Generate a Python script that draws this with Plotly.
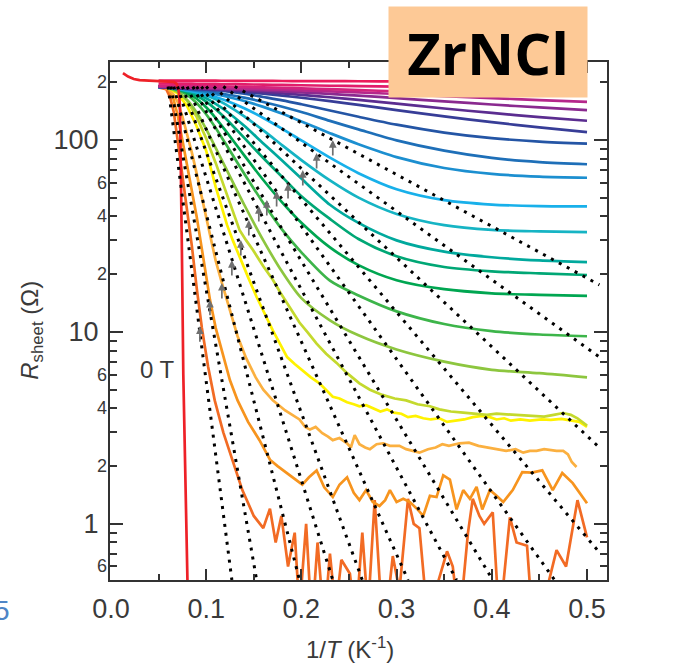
import numpy as np
import plotly.graph_objects as go

# ---------------- data ----------------
GRID_X = [0.05, 0.06, 0.07, 0.08, 0.09, 0.10, 0.11, 0.12, 0.14, 0.16, 0.18,
          0.20, 0.23, 0.26, 0.30, 0.35, 0.40, 0.45, 0.50]

c6_r = [190, 186.6, 178, 162, 139, 114, 91, 72.5, 46, 30, 20.5, 15, 11.5, 9.6, 8.1, 7.0, 6.35, 6.1, 5.8]
c7_r = [190, 187.3, 182, 171.8, 155.8, 136.3, 115.5, 96.4, 66.8, 47, 34, 26, 18.5, 15.5, 12.8, 11.0, 10.1, 9.7, 9.5]
c8_r = [189, 187.5, 183.3, 176.1, 164, 148.1, 130.2, 112.6, 83.2, 61.9, 47.2, 37.1, 27.6, 22.3, 18.6, 16.7, 15.9, 15.6, 15.4]
c9_r = [188.5, 187.5, 184.2, 178.6, 169.8, 158.5, 144.8, 130.2, 102.6, 80.6, 64.1, 51, 38.8, 30.5, 24.8, 21.8, 20.7, 20.2, 19.8]
c10_r = [188.5, 187.3, 184.3, 180.4, 174, 165.2, 154.5, 142.9, 118.7, 96, 78, 63, 46, 37, 30, 26.2, 24.5, 23.6, 23.1]
c11_r = [188.6, 187.5, 185, 180.8, 176.5, 170.8, 163.1, 153.7, 132.8, 112.2, 93.8, 78.6, 61.6, 50.1, 41.2, 36, 34, 33.4, 33.1]
c12_r = [188.7, 187.6, 185.5, 181.6, 177.7, 173, 167.6, 161.3, 146.4, 130.3, 114.4, 99.5, 80.9, 67.2, 55.4, 48.6, 46.1, 45.3, 45.1]
c13_r = [188.8, 187.7, 185.8, 183.2, 180.3, 177.1, 173.5, 169.2, 159.8, 148.8, 136.9, 124.8, 108.6, 95.1, 81.5, 71.5, 66.6, 64.5, 63.6]
c14_r = [188.9, 187.8, 186, 184, 182, 179.6, 176.5, 173.1, 166.3, 157.9, 149.1, 139.9, 125.8, 113.6, 99.6, 88, 80.7, 76.8, 74.8]
c15_r = [189, 187.9, 186.3, 185.1, 184.1, 182.9, 181.5, 179.9, 174.3, 167.6, 161, 153.6, 142.6, 132.2, 120.2, 109.4, 102.3, 98.1, 95.7]
c16_r = [189.2, 188, 186.6, 185.4, 184.3, 183.2, 182, 180.7, 177.5, 174.3, 170.4, 166.1, 159.3, 152.5, 143.3, 132.8, 123.9, 116.3, 110]
c17_r = [189.4, 188.2, 187, 186.1, 185.3, 184.6, 183.7, 182.7, 180.3, 177.8, 175.1, 172, 167, 161.8, 154.6, 146, 138.4, 131.7, 126]
c18_r = [189.7, 188.5, 187.5, 187.1, 186.5, 185.9, 185.3, 184.5, 183, 181.2, 179.4, 177.3, 173.9, 170.3, 165.3, 159, 153.1, 147.8, 143]
c19_r = [190, 188.9, 188.1, 187.8, 187.5, 187.1, 186.7, 186.1, 185.2, 183.9, 182.8, 181.4, 179.3, 177.1, 173.7, 169.5, 165.4, 161.5, 158]
c20_r = [192, 192, 191.8, 191.5, 191.2, 190.8, 190.4, 190, 189, 188, 187, 185.8, 184, 182, 179.5, 177, 175, 173.5, 172]
c21_r = [197, 197, 196.8, 196.6, 196.4, 196.2, 196, 195.7, 195, 194.3, 193.6, 192.9, 191.8, 190.8, 189.6, 188.4, 187.4, 186.6, 186]
c22_r = [204, 204, 204, 204, 204, 204, 203.8, 203.6, 203.4, 203.2, 203, 202.8, 202.6, 202.4, 202.2, 202, 201.7, 201.4, 201]

# low-field curves (x, R) read point by point, including their noise
c1_pts = [(0.05, 188), (0.058, 184), (0.062, 168), (0.066, 140), (0.070, 100), (0.075, 66), (0.080, 42),
          (0.085, 28), (0.090, 17), (0.0955, 10.5), (0.102, 6.6), (0.109, 4.4), (0.118, 3.0), (0.127, 2.2),
          (0.138, 1.5), (0.150, 1.1), (0.160, 0.95), (0.167, 1.2), (0.173, 0.8), (0.179, 1.1), (0.186, 0.6),
          (0.193, 0.9), (0.198, 0.35), (0.205, 1.0), (0.211, 0.3), (0.217, 0.8), (0.224, 0.3), (0.230, 0.7),
          (0.236, 0.35), (0.242, 0.65), (0.251, 0.55), (0.257, 0.3), (0.264, 0.9), (0.270, 0.35), (0.277, 1.33),
          (0.285, 0.3), (0.291, 0.4), (0.296, 0.68), (0.303, 0.45), (0.312, 1.35), (0.318, 1.0), (0.324, 0.95),
          (0.333, 0.3), (0.341, 0.45), (0.353, 0.72), (0.359, 0.6), (0.366, 0.3), (0.375, 0.9), (0.380, 1.35),
          (0.387, 1.1), (0.392, 1.0), (0.401, 1.15), (0.408, 0.3), (0.419, 1.08), (0.426, 0.8), (0.437, 0.77),
          (0.443, 0.3), (0.455, 0.4), (0.468, 0.73), (0.478, 0.6), (0.490, 1.33), (0.500, 0.85)]
c2_pts = [(0.05, 189), (0.06, 186), (0.065, 168), (0.07, 135), (0.075, 100), (0.08, 74), (0.085, 54),
          (0.09, 40), (0.095, 28), (0.10, 19.5), (0.104, 14.7), (0.11, 10.5), (0.118, 7.4), (0.125, 5.6),
          (0.133, 4.4), (0.144, 3.4), (0.156, 2.73), (0.167, 2.16), (0.175, 2.0), (0.185, 1.83), (0.193, 1.7),
          (0.201, 1.6), (0.208, 1.75), (0.216, 1.9), (0.224, 1.55), (0.233, 1.38), (0.240, 1.6), (0.248, 1.75),
          (0.255, 1.45), (0.261, 1.33), (0.268, 1.5), (0.275, 1.3), (0.282, 1.24), (0.288, 1.33), (0.293, 1.5),
          (0.300, 1.3), (0.307, 1.35), (0.314, 1.3), (0.322, 1.19), (0.328, 1.1), (0.335, 1.4), (0.342, 1.38),
          (0.349, 1.79), (0.356, 1.7), (0.363, 1.19), (0.370, 1.5), (0.377, 1.35), (0.384, 1.56), (0.390, 1.19),
          (0.398, 1.5), (0.405, 1.4), (0.412, 1.3), (0.422, 1.5), (0.432, 1.86), (0.442, 1.85), (0.453, 1.9),
          (0.464, 1.5), (0.474, 1.84), (0.485, 1.63), (0.500, 1.28)]
c3_pts = [(0.05, 189), (0.06, 186), (0.066, 172), (0.07, 158), (0.075, 133), (0.08, 108), (0.085, 86),
          (0.09, 67), (0.095, 51), (0.10, 39), (0.105, 30), (0.11, 23.5), (0.1165, 18), (0.125, 12.8),
          (0.133, 9.5), (0.142, 7.3), (0.152, 5.8), (0.160, 5.0), (0.170, 4.4), (0.183, 3.9), (0.190, 3.7),
          (0.198, 3.5), (0.204, 3.2), (0.209, 3.1), (0.215, 3.2), (0.222, 2.97), (0.228, 2.85), (0.233, 2.73),
          (0.240, 2.8), (0.248, 2.63), (0.252, 2.5), (0.256, 2.9), (0.261, 2.6), (0.267, 2.5), (0.272, 2.45),
          (0.279, 2.6), (0.286, 2.63), (0.293, 2.55), (0.303, 2.55), (0.310, 2.45), (0.317, 2.4), (0.324, 2.35),
          (0.333, 2.45), (0.341, 2.5), (0.348, 2.6), (0.355, 2.55), (0.366, 2.63), (0.376, 2.65), (0.386, 2.55),
          (0.397, 2.5), (0.405, 2.45), (0.415, 2.4), (0.425, 2.45), (0.433, 2.35), (0.440, 2.4), (0.447, 2.4),
          (0.455, 2.45), (0.461, 2.42), (0.468, 2.4), (0.475, 2.4), (0.480, 2.3), (0.484, 2.1), (0.489, 1.98)]
c4_pts = [(0.05, 189), (0.06, 187), (0.07, 175), (0.08, 150), (0.09, 118), (0.10, 88), (0.11, 57),
          (0.116, 45), (0.122, 36), (0.128, 30), (0.135, 24.6), (0.144, 19.3), (0.153, 15.2), (0.161, 12.5),
          (0.170, 10.2), (0.178, 8.6), (0.185, 7.4), (0.193, 6.8), (0.201, 6.3), (0.210, 5.8), (0.219, 5.4),
          (0.226, 5.0), (0.233, 4.6), (0.240, 4.5), (0.248, 4.3), (0.255, 4.2), (0.261, 4.1), (0.268, 4.15),
          (0.276, 4.0), (0.283, 3.85), (0.290, 3.95), (0.297, 3.8), (0.305, 3.75), (0.312, 3.6), (0.320, 3.65),
          (0.328, 3.55), (0.336, 3.5), (0.345, 3.55), (0.353, 3.4), (0.362, 3.45), (0.371, 3.5), (0.380, 3.6),
          (0.390, 3.65), (0.398, 3.6), (0.405, 3.5), (0.413, 3.55), (0.420, 3.45), (0.430, 3.5), (0.440, 3.45),
          (0.452, 3.5), (0.462, 3.48), (0.473, 3.52), (0.483, 3.45), (0.492, 3.4), (0.500, 3.2)]
c5_pts = [(0.05, 189), (0.06, 188), (0.07, 180), (0.08, 160), (0.09, 132), (0.10, 102), (0.11, 76),
          (0.12, 55), (0.127, 44), (0.135, 34), (0.142, 30), (0.149, 26.8), (0.16, 22), (0.17, 18.7),
          (0.178, 16), (0.185, 14.1), (0.192, 12.5), (0.198, 11.2), (0.207, 9.9), (0.216, 8.7), (0.226, 7.7),
          (0.237, 6.9), (0.248, 6.1), (0.261, 5.4), (0.272, 5.0), (0.285, 4.7), (0.298, 4.5), (0.31, 4.4),
          (0.322, 4.2), (0.335, 4.1), (0.345, 3.95), (0.357, 3.85), (0.37, 3.8), (0.382, 3.75), (0.395, 3.7),
          (0.405, 3.75), (0.418, 3.72), (0.43, 3.68), (0.443, 3.65), (0.455, 3.62), (0.465, 3.7), (0.475, 3.78),
          (0.483, 3.7), (0.49, 3.55), (0.5, 3.25)]
zeroT_pts = [(0.0126, 223), (0.018, 214), (0.024, 208), (0.03, 205), (0.04, 204), (0.05, 203.5), (0.06, 203),
             (0.066, 201), (0.069, 196), (0.0712, 180), (0.0725, 150), (0.0735, 80), (0.0745, 27),
             (0.076, 6), (0.0776, 2.4), (0.079, 0.9), (0.081, 0.35)]

grid_curves = [c6_r, c7_r, c8_r, c9_r, c10_r, c11_r, c12_r, c13_r, c14_r, c15_r, c16_r,
               c17_r, c18_r, c19_r, c20_r, c21_r, c22_r]
point_curves = [c1_pts, c2_pts, c3_pts, c4_pts, c5_pts]

field_colors = ['#F26B24', '#F7941E', '#FBB040', '#FFF200', '#C4D92E', '#8DC63F', '#3DB54A', '#00A651',
                '#00A775', '#00A99D', '#16B4C4', '#18B0EA', '#1C8FD0', '#1E6FB8', '#2455A5', '#373D97',
                '#5B2D90', '#8A2A8F', '#B5278B', '#D2237D', '#E21D6B', '#EB1B5B']
zeroT_color = '#EE2128'

# Arrhenius (dotted) fit lines: start and end points
dot_x0 = [0.060, 0.063, 0.066, 0.070, 0.075, 0.080, 0.086, 0.090, 0.095, 0.100, 0.108, 0.118, 0.130]
dot_r0 = [190] * 13
dot_x1 = [0.127, 0.153, 0.198, 0.233, 0.264, 0.312, 0.363, 0.401, 0.466, 0.513, 0.513, 0.513, 0.513]
dot_r1 = [0.51, 0.51, 0.51, 0.51, 0.51, 0.51, 0.51, 0.51, 0.51, 0.71, 2.5, 7.4, 17.6]

# grey arrows marking departure from the fits
arrow_x = [0.0934, 0.104, 0.1165, 0.127, 0.1364, 0.1448, 0.1553, 0.1637, 0.174, 0.186, 0.2015, 0.216, 0.233]
arrow_r = [10.7, 14.7, 18.0, 23.7, 30.1, 38.3, 45.3, 48.7, 54.2, 59.7, 69.8, 85.5, 100]

y_major = [1, 10, 100]
y_minor_labeled = [0.6, 2, 4, 6, 20, 40, 60, 200]
y_minor_text = ['6', '2', '4', '6', '2', '4', '6', '2']
y_minor_all = [0.6, 0.7, 0.8, 0.9, 2, 3, 4, 5, 6, 7, 8, 9, 20, 30, 40, 50, 60, 70, 80, 90, 200]
x_major = [0.0, 0.1, 0.2, 0.3, 0.4, 0.5]
x_major_text = ['0.0', '0.1', '0.2', '0.3', '0.4', '0.5']
x_minor = [0.05, 0.15, 0.25, 0.35, 0.45]

FONT = 'Liberation Sans, Arial, Helvetica, sans-serif'
TXT = '#3a3a3a'
AX = '#333333'

fig = go.Figure()

for i, pts in enumerate(point_curves):
    xs, rs = zip(*pts)
    fig.add_trace(go.Scatter(x=xs, y=rs, mode='lines',
                             line=dict(color=field_colors[i], width=2.7), showlegend=False,
                             hoverinfo='skip'))
for j, rs in enumerate(grid_curves):
    fig.add_trace(go.Scatter(x=GRID_X, y=rs, mode='lines',
                             line=dict(color=field_colors[j + 5], width=2.7, shape='spline', smoothing=0.8),
                             showlegend=False, hoverinfo='skip'))
zx, zr = zip(*zeroT_pts)
fig.add_trace(go.Scatter(x=zx, y=zr, mode='lines', line=dict(color=zeroT_color, width=2.7),
                         showlegend=False, hoverinfo='skip'))
for a, b, c, d in zip(dot_x0, dot_r0, dot_x1, dot_r1):
    fig.add_trace(go.Scatter(x=[a, c], y=[b, d], mode='lines',
                             line=dict(color='black', width=3, dash='3px,6px'),
                             showlegend=False, hoverinfo='skip'))

annotations = []
for xa, ra in zip(arrow_x, arrow_r):
    annotations.append(dict(x=xa, y=np.log10(ra), xref='x', yref='y', text='', showarrow=True,
                            ax=0, ay=17, arrowhead=2, arrowsize=0.9, arrowwidth=1.7,
                            arrowcolor='#707070'))
for v, t in zip(y_minor_labeled, y_minor_text):
    annotations.append(dict(x=0, y=np.log10(v), xref='paper', yref='y', text=t, showarrow=False,
                            xanchor='right', yanchor='middle', xshift=-1,
                            font=dict(family=FONT, size=18, color=TXT)))
annotations += [
    dict(x=-0.157, y=0.483, xref='paper', yref='paper', text='<i>R</i><sub>sheet</sub> (Ω)',
         textangle=-90, showarrow=False, xanchor='center', yanchor='middle',
         font=dict(family=FONT, size=24, color=TXT)),
    dict(x=0.483, y=-0.131, xref='paper', yref='paper', text='1/<i>T</i> (K<sup>-1</sup>)',
         showarrow=False, xanchor='center', yanchor='middle',
         font=dict(family=FONT, size=24, color=TXT)),
    dict(x=0.049, y=np.log10(6.4), xref='x', yref='y', text='0 T', showarrow=False,
         xanchor='center', yanchor='middle', font=dict(family=FONT, size=24, color=TXT)),
    dict(x=0.552, y=np.log10(213), xref='x', yref='y', text='9 T', showarrow=False,
         xanchor='center', yanchor='middle', font=dict(family=FONT, size=25, color=TXT)),
    dict(x=0.572, y=np.log10(0.733), xref='x', yref='y', text='0.05 T', showarrow=False,
         xanchor='center', yanchor='middle', font=dict(family=FONT, size=25, color=TXT)),
    dict(x=0.7606, y=1.0193, xref='paper', yref='paper', text='<b>ZrNCl</b>', showarrow=False,
         xanchor='center', yanchor='middle', width=198, height=90, borderpad=0,
         bgcolor='#FDC996', font=dict(family='Open Sans, Noto Sans, sans-serif', size=58, color='black')),
    dict(x=-0.2173, y=-0.058, xref='paper', yref='paper', text='5', showarrow=False,
         xanchor='center', yanchor='middle', font=dict(family=FONT, size=28, color='#4F86C6')),
]

fig.update_layout(
    width=698, height=667,
    margin=dict(l=110, r=91, t=62, b=87),
    paper_bgcolor='white', plot_bgcolor='white',
    font=dict(family=FONT, color=TXT),
    annotations=annotations,
    xaxis=dict(range=[-0.001, 0.521], tickvals=x_major, ticktext=x_major_text,
               ticks='inside', ticklen=11, tickwidth=2, tickcolor=AX,
               minor=dict(ticks='inside', ticklen=6, tickwidth=1.5, tickcolor=AX, tickvals=x_minor),
               showline=True, linecolor=AX, linewidth=2, mirror='ticks',
               showgrid=False, zeroline=False, tickfont=dict(family=FONT, size=27, color=TXT),
               ticklabelstandoff=4),
    yaxis=dict(type='log', range=[np.log10(0.51), np.log10(255)], tickvals=y_major,
               ticktext=[str(v) for v in y_major],
               ticks='inside', ticklen=13, tickwidth=2, tickcolor=AX,
               minor=dict(ticks='inside', ticklen=7, tickwidth=1.5, tickcolor=AX, tickvals=y_minor_all),
               showline=True, linecolor=AX, linewidth=2, mirror='ticks',
               showgrid=False, zeroline=False, tickfont=dict(family=FONT, size=27, color=TXT),
               ticklabelstandoff=4),
)

fig.write_html('out.html')
